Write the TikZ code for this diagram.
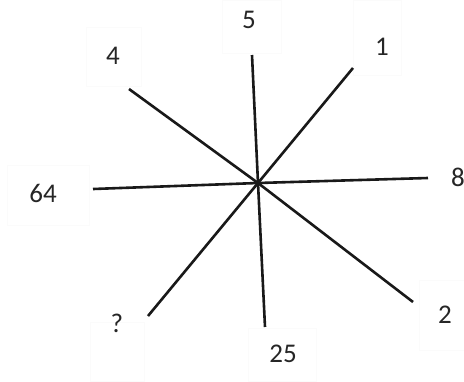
\documentclass[tikz,border=0pt]{standalone}
\usepackage{fontspec}
\setmainfont{Carlito}
\begin{document}
\begin{tikzpicture}[x=1pt,y=-1pt,
  spoke/.style={line width=2.6pt,black!90},
  lbl/.style={font=\fontsize{27}{30}\selectfont,inner sep=0pt,text=black!85},
  fbox/.style={draw=gray!3,line width=0.6pt}]
\useasboundingbox[fill=white] (0,0) rectangle (464,381);
% faint label frames
\draw[fbox] (86,27) rectangle (141,86);
\draw[fbox] (222,0) rectangle (281,53);
\draw[fbox] (353,0) rectangle (401,75);
\draw[fbox] (7,165) rectangle (89,225);
\draw[fbox] (90,322) rectangle (144,381);
\draw[fbox] (248,328) rectangle (316,381);
\draw[fbox] (419,280) rectangle (464,350);
\coordinate (c) at (258,183);
\coordinate (pU) at (252,55);
\coordinate (pUR) at (353,68);
\coordinate (pR) at (428,178);
\coordinate (pDR) at (413,302);
\coordinate (pD) at (265,327);
\coordinate (pDL) at (148,316);
\coordinate (pL) at (93,189);
\coordinate (pUL) at (129,89);
\foreach \p in {pU,pUR,pR,pDR,pD,pDL,pL,pUL} \draw[spoke] (c) -- (\p);
\node[lbl] (l4) at (113,56) {4};
\node[lbl] (l5) at (249,20) {5};
\node[lbl] (l1) at (382,47) {1};
\node[lbl] (l8) at (458,177) {8};
\node[lbl] (l2) at (445,315) {2};
\node[lbl] (l25) at (283,354) {25};
\node[lbl] (lq) at (117,323) {?};
\node[lbl] (l64) at (43,193) {64};
\end{tikzpicture}
\end{document}
